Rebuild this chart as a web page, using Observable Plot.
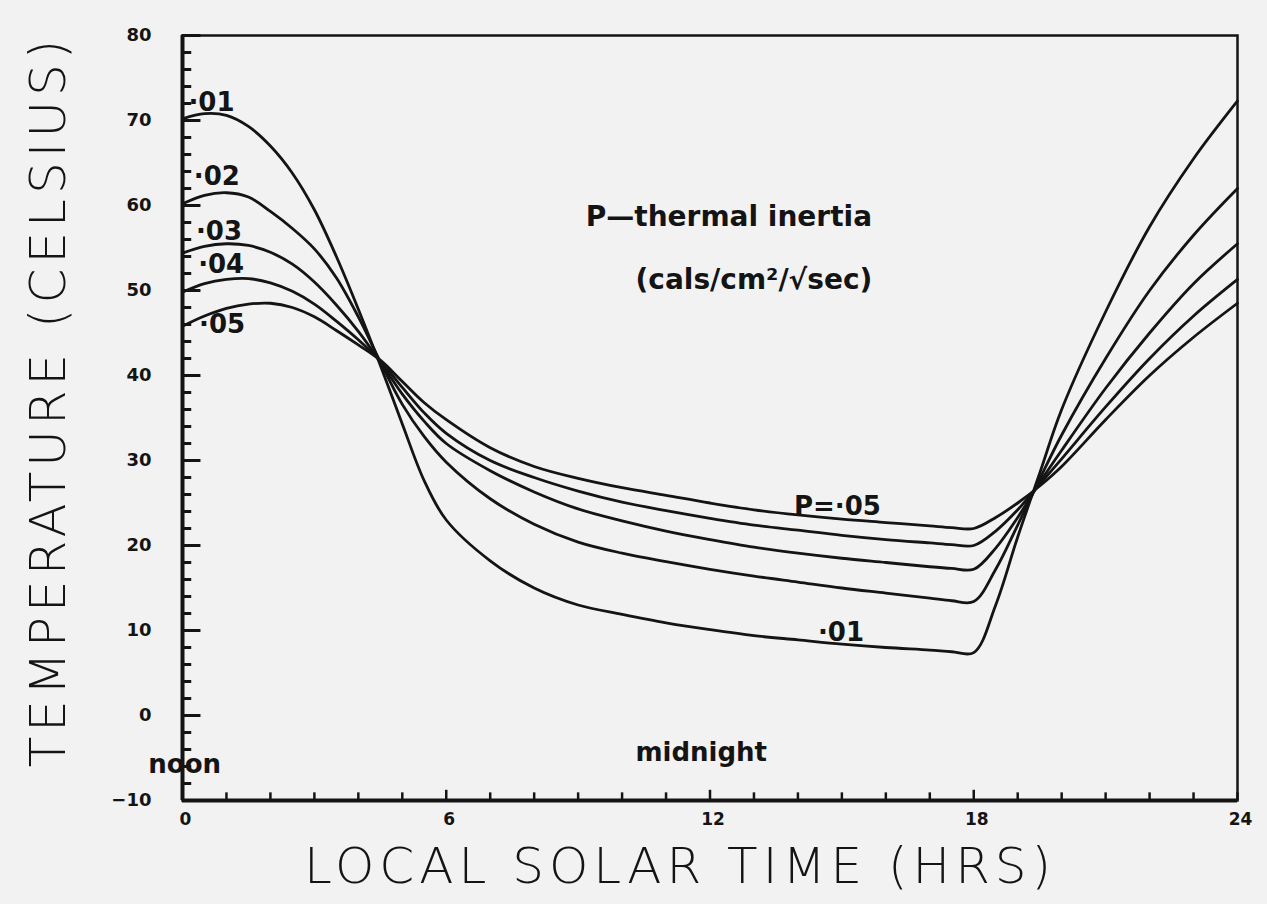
<!DOCTYPE html>
<html>
<head>
<meta charset="utf-8">
<script src="https://cdn.jsdelivr.net/npm/d3@7"></script>
<script src="https://cdn.jsdelivr.net/npm/@observablehq/plot@0.6"></script>
<style>
  html, body { margin: 0; padding: 0; background: #f2f2f2; }
  #chart svg { display: block; }
</style>
</head>
<body>
<div id="chart"></div>
<script>
// Local solar time (hours) sampled along each curve
const hours = [0, 0.5, 1, 1.5, 2, 2.5, 3, 3.5, 4, 4.5, 5, 5.5, 6, 7, 8, 9, 10, 11, 12, 13, 14, 15, 16, 17, 17.5, 18, 18.5, 19, 19.5, 20, 21, 22, 23, 24];

// Surface temperature (°C) for each thermal inertia P
const seriesNames = ["·01", "·02", "·03", "·04", "·05"];
const tempP01 = [70.2, 70.8, 70.6, 69.3, 67.0, 63.8, 59.5, 54.0, 47.8, 41.2, 34.3, 27.6, 23.0, 18.2, 15.0, 13.0, 11.9, 10.9, 10.1, 9.4, 8.9, 8.4, 8.0, 7.7, 7.5, 7.4, 13.0, 21.0, 28.5, 36.0, 47.5, 57.5, 65.5, 72.3];
const tempP02 = [60.2, 61.2, 61.5, 61.0, 59.3, 57.3, 54.9, 51.5, 46.9, 41.6, 36.6, 32.8, 29.8, 25.5, 22.5, 20.4, 19.1, 18.1, 17.2, 16.4, 15.7, 15.0, 14.4, 13.8, 13.5, 13.4, 17.2, 22.4, 27.8, 33.0, 42.0, 50.0, 56.5, 62.0];
const tempP03 = [54.4, 55.2, 55.5, 55.3, 54.5, 53.1, 51.0, 48.3, 45.2, 41.6, 37.8, 34.6, 32.0, 28.8, 26.3, 24.3, 22.9, 21.7, 20.7, 19.8, 19.1, 18.5, 18.0, 17.5, 17.3, 17.2, 19.7, 23.3, 27.4, 31.2, 38.5, 45.0, 50.8, 55.5];
const tempP04 = [49.8, 50.8, 51.3, 51.4, 50.9, 49.9, 48.4, 46.4, 44.2, 41.7, 38.6, 35.6, 33.2, 30.0, 28.0, 26.4, 25.1, 24.1, 23.2, 22.4, 21.8, 21.2, 20.7, 20.3, 20.1, 20.0, 21.7, 24.2, 27.2, 30.2, 36.3, 42.0, 47.0, 51.3];
const tempP05 = [45.8, 47.0, 47.9, 48.4, 48.5, 48.0, 46.9, 45.3, 43.6, 41.8, 39.3, 36.8, 34.8, 31.5, 29.3, 27.9, 26.8, 25.9, 25.0, 24.2, 23.6, 23.1, 22.7, 22.3, 22.1, 22.0, 23.3, 25.0, 27.0, 29.3, 34.8, 40.0, 44.5, 48.5];

// Axis ticks
const xTickValues = d3.range(0, 25, 1);
const xTickLabels = [0, 6, 12, 18, 24];
const yTickValues = d3.range(-10, 81, 2);
const yTickLabels = [-10, 0, 10, 20, 30, 40, 50, 60, 70, 80];

// Annotations (text, hour, temperature)
const noteTexts = ["·01", "·02", "·03", "·04", "·05", "P=·05", "·01", "noon", "midnight"];
const noteX = [0.66, 0.78, 0.83, 0.88, 0.9, 14.9, 14.98, 0.05, 11.8];
const noteY = [72.1, 63.4, 56.9, 53.0, 46.0, 24.6, 9.8, -5.8, -4.4];
const titleTexts = ["P—thermal inertia", "(cals/cm²/√sec)"];
const titleX = [12.43, 13.0];
const titleY = [58.6, 51.2];
const yTitle = "TEMPERATURE (CELSIUS)";
const xTitle = "LOCAL SOLAR TIME (HRS)";

const allTemps = [tempP01, tempP02, tempP03, tempP04, tempP05];
const rows = [];
seriesNames.forEach((name, i) => {
  hours.forEach((h, j) => rows.push({P: name, hour: h, temp: allTemps[i][j]}));
});
const notes = noteTexts.map((t, i) => ({text: t, x: noteX[i], y: noteY[i]}));
const titles = titleTexts.map((t, i) => ({text: t, x: titleX[i], y: titleY[i]}));

const font = "'DejaVu Sans', sans-serif";
const ink = "#141414";

const chart = Plot.plot({
  width: 1267,
  height: 904,
  marginLeft: 182,
  marginRight: 30,
  marginTop: 35,
  marginBottom: 104,
  style: {background: "#f2f2f2", fontFamily: font, color: ink},
  x: {domain: [0, 24]},
  y: {domain: [-10, 80]},
  marks: [
    Plot.frame({stroke: ink, strokeWidth: 2.5}),
    Plot.ruleX([0], {stroke: ink, strokeWidth: 4}),
    Plot.ruleY([-10], {stroke: ink, strokeWidth: 4}),
    // inward ticks on y axis
    Plot.ruleY(yTickValues, {y: d => d, x1: 0, x2: d => (d % 10 === 0 ? 0.42 : 0.21), stroke: ink, strokeWidth: 3}),
    // inward ticks on x axis
    Plot.ruleX(xTickValues, {x: d => d, y1: -10, y2: d => (d % 6 === 0 && d > 0 && d < 24 ? -8.8 : -9.1), stroke: ink, strokeWidth: 2.5}),
    Plot.axisY({ticks: yTickLabels, tickSize: 0, tickPadding: 31, fontSize: 18, fontWeight: "bold", label: null}),
    Plot.axisX({ticks: xTickLabels, tickSize: 0, tickPadding: 12, fontSize: 17, fontWeight: "bold", dx: 3, label: null}),
    Plot.line(rows, {x: "hour", y: "temp", z: "P", curve: "catmull-rom", stroke: ink, strokeWidth: 2.8}),
    Plot.text(notes, {x: "x", y: "y", text: "text", fontSize: 26, fontWeight: "bold", fill: ink}),
    Plot.text(titles, {x: "x", y: "y", text: "text", fontSize: 28, fontWeight: "bold", fill: ink}),
    Plot.text([yTitle], {frameAnchor: "left", textAnchor: "middle", rotate: -90, dx: -134, dy: -17, fontSize: 50, fontWeight: 200, fill: ink}),
    Plot.text([xTitle], {frameAnchor: "bottom", dx: -30, dy: 66, lineAnchor: "middle", fontSize: 50, fontWeight: 200, fill: ink})
  ]
});
// widen the plotter-style axis titles
d3.select(chart).selectAll("text")
  .filter(function() { return this.textContent === yTitle || this.textContent === xTitle; })
  .attr("letter-spacing", 5);
document.getElementById("chart").append(chart);
</script>
</body>
</html>
